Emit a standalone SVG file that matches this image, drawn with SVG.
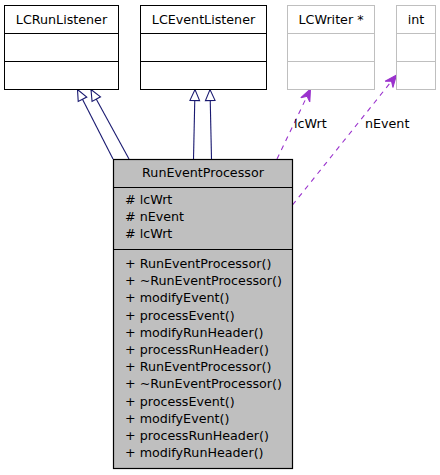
<svg xmlns="http://www.w3.org/2000/svg" width="440" height="475" viewBox="0 0 440 475">
<defs>
<style>
text{font-family:"DejaVu Sans","Liberation Sans",sans-serif;font-size:12.7px;fill:#000}
.c{text-anchor:middle}
.box{fill:#fff;stroke:#000;stroke-width:1}
.ext{fill:#fff;stroke:#bfbfbf;stroke-width:1}
.main{fill:#bfbfbf;stroke:#000;stroke-width:1.2}
.inh{fill:none;stroke:#191970;stroke-width:1.1}
.use{fill:none;stroke:#9a32cd;stroke-width:1.1;stroke-dasharray:5,5}
</style>
<marker id="tri" markerUnits="userSpaceOnUse" markerWidth="14" markerHeight="12" viewBox="0 -6 13 12" refX="12" refY="0" orient="auto">
<path d="M1,-4.8 L12,0 L1,4.8 Z" fill="#fff" stroke="#191970" stroke-width="1.1"/>
</marker>
<marker id="vee" markerUnits="userSpaceOnUse" markerWidth="14" markerHeight="12" viewBox="0 -6 13 12" refX="12" refY="0" orient="auto">
<path d="M0,-5 L12,0 L0,5 L4,0 Z" fill="#9a32cd" stroke="#9a32cd" stroke-width="1"/>
</marker>
</defs>
<rect width="440" height="475" fill="#fff"/>
<g id="edges">
<line class="inh" x1="113" y1="159" x2="77.5" y2="89.5" marker-end="url(#tri)"/>
<line class="inh" x1="129" y1="159" x2="91" y2="89.5" marker-end="url(#tri)"/>
<line class="inh" x1="193.5" y1="159" x2="195" y2="89.5" marker-end="url(#tri)"/>
<line class="inh" x1="211.5" y1="159" x2="210" y2="89.5" marker-end="url(#tri)"/>
<line class="use" x1="277" y1="159" x2="310.5" y2="89" marker-end="url(#vee)"/>
<text x="294" y="127.5">lcWrt</text>
<line class="use" x1="292.5" y1="205" x2="396.5" y2="75" marker-end="url(#vee)"/>
<text x="365" y="127.5">nEvent</text>
</g>
<g id="LCRunListener">
<rect class="box" x="4.5" y="5.5" width="114" height="84"/>
<line class="box" x1="4.5" y1="33.5" x2="118.5" y2="33.5"/>
<line class="box" x1="4.5" y1="61.5" x2="118.5" y2="61.5"/>
<text class="c" x="61.5" y="24">LCRunListener</text>
</g>
<g id="LCEventListener">
<rect class="box" x="140.5" y="5.5" width="126" height="84"/>
<line class="box" x1="140.5" y1="33.5" x2="266.5" y2="33.5"/>
<line class="box" x1="140.5" y1="61.5" x2="266.5" y2="61.5"/>
<text class="c" x="203.5" y="24">LCEventListener</text>
</g>
<g id="LCWriter">
<rect class="ext" x="287.5" y="5.5" width="87" height="84"/>
<line class="ext" x1="287.5" y1="33.5" x2="374.5" y2="33.5"/>
<line class="ext" x1="287.5" y1="61.5" x2="374.5" y2="61.5"/>
<text class="c" x="331" y="24">LCWriter *</text>
</g>
<g id="int">
<rect class="ext" x="396.5" y="5.5" width="39" height="84"/>
<line class="ext" x1="396.5" y1="33.5" x2="435.5" y2="33.5"/>
<line class="ext" x1="396.5" y1="61.5" x2="435.5" y2="61.5"/>
<text class="c" x="416" y="24">int</text>
</g>
<g id="RunEventProcessor">
<rect class="main" x="113.5" y="159.5" width="179" height="309"/>
<line class="main" x1="113.5" y1="187.5" x2="292.5" y2="187.5"/>
<line class="main" x1="113.5" y1="249.5" x2="292.5" y2="249.5"/>
<text class="c" x="203" y="177">RunEventProcessor</text>
<text x="125" y="203.5"># lcWrt</text>
<text x="125" y="220.7"># nEvent</text>
<text x="125" y="237.9"># lcWrt</text>
<text x="125" y="268">+ RunEventProcessor()</text>
<text x="125" y="285.2">+ ~RunEventProcessor()</text>
<text x="125" y="302.4">+ modifyEvent()</text>
<text x="125" y="319.6">+ processEvent()</text>
<text x="125" y="336.8">+ modifyRunHeader()</text>
<text x="125" y="354">+ processRunHeader()</text>
<text x="125" y="371.2">+ RunEventProcessor()</text>
<text x="125" y="388.4">+ ~RunEventProcessor()</text>
<text x="125" y="405.6">+ processEvent()</text>
<text x="125" y="422.8">+ modifyEvent()</text>
<text x="125" y="440">+ processRunHeader()</text>
<text x="125" y="457.2">+ modifyRunHeader()</text>
</g>
</svg>
